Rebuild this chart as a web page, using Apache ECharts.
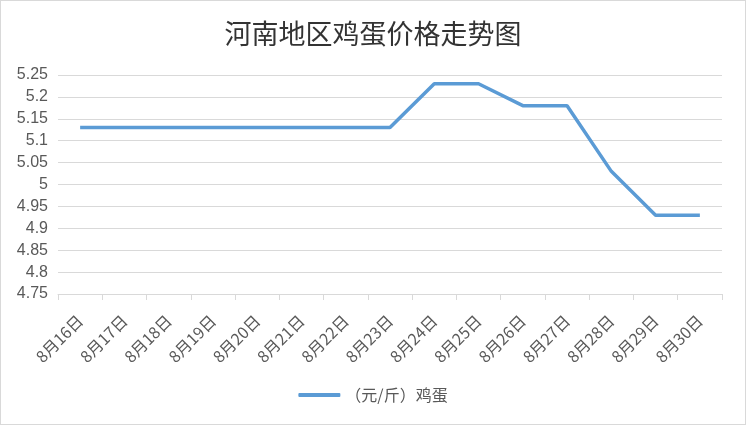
<!DOCTYPE html>
<html>
<head>
<meta charset="utf-8">
<script src="https://cdn.jsdelivr.net/npm/echarts@6/dist/echarts.min.js"></script>
<style>
html, body { margin: 0; padding: 0; background: #fff; }
#chart { width: 744px; height: 423px; border: 1px solid #d9d9d9; }
</style>
</head>
<body>
<div id="chart"></div>
<script>
// 8月16日 - 8月30日 河南鸡蛋价格（元/斤）
var days = ['8月16日', '8月17日', '8月18日', '8月19日', '8月20日', '8月21日', '8月22日', '8月23日',
    '8月24日', '8月25日', '8月26日', '8月27日', '8月28日', '8月29日', '8月30日'];
var prices = [5.13, 5.13, 5.13, 5.13, 5.13, 5.13, 5.13, 5.13, 5.23, 5.23, 5.18, 5.18, 5.03, 4.93, 4.93];
var seriesName = '（元/斤）鸡蛋';

var chart = echarts.init(document.getElementById('chart'));
chart.setOption({
    animation: false,
    title: {
        text: '河南地区鸡蛋价格走势图',
        left: 'center',
        top: 14,
        textStyle: {
            fontFamily: 'Noto Sans CJK SC',
            fontSize: 27,
            fontWeight: 'normal',
            color: '#333333'
        }
    },
    legend: {
        bottom: 16,
        left: 'center',
        itemWidth: 42,
        itemHeight: 4,
        itemGap: 10,
        icon: 'roundRect',
        textStyle: { fontSize: 16, color: '#595959', fontFamily: 'Noto Sans CJK SC' },
        data: [seriesName]
    },
    grid: { left: 57, right: 23, top: 74, bottom: 130 },
    xAxis: {
        type: 'category',
        data: days,
        boundaryGap: true,
        axisLine: { lineStyle: { color: '#d9d9d9' } },
        axisTick: { show: true, length: 6, lineStyle: { color: '#d9d9d9' } },
        axisLabel: {
            rotate: 45,
            interval: 0,
            fontSize: 16,
            color: '#595959',
            fontFamily: 'Noto Sans CJK SC',
            margin: 24
        }
    },
    yAxis: {
        type: 'value',
        min: 4.75,
        max: 5.25,
        interval: 0.05,
        axisLine: { show: false },
        axisTick: { show: false },
        axisLabel: {
            fontSize: 16,
            color: '#595959',
            margin: 10,
            formatter: function (v) { return String(Math.round(v * 100) / 100); }
        },
        splitLine: { lineStyle: { color: '#d9d9d9' } }
    },
    series: [{
        name: seriesName,
        type: 'line',
        data: prices,
        symbol: 'none',
        lineStyle: { color: '#5b9bd5', width: 3.5 },
        itemStyle: { color: '#5b9bd5' }
    }]
});
</script>
</body>
</html>
